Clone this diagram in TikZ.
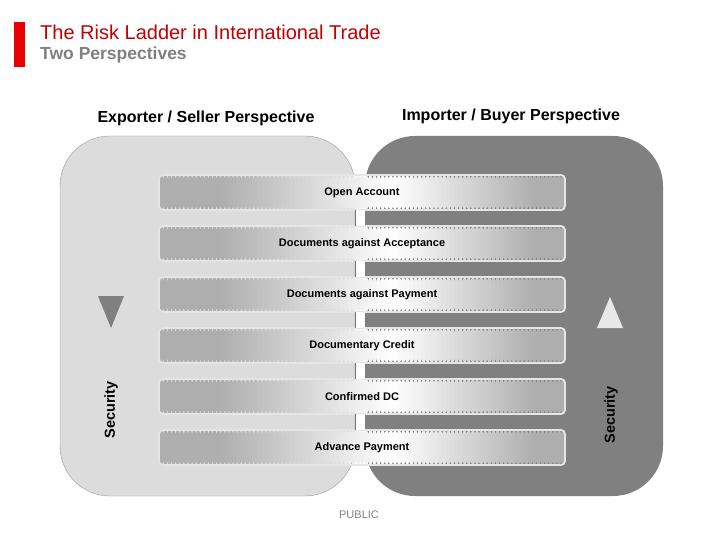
\documentclass[tikz,border=0pt]{standalone}
\usepackage{fontspec}
\setmainfont{Liberation Sans}
\usetikzlibrary{positioning}

\definecolor{lightpanel}{RGB}{220,220,220}
\definecolor{darkpanel}{RGB}{128,128,128}
\definecolor{bargray}{RGB}{174,174,174}
\definecolor{titlered}{RGB}{196,0,0}
\definecolor{flagred}{RGB}{230,0,0}

\tikzset{
  rung/.style={line width=1.5pt, rounded corners=4pt,
    path picture={
      % gray - white - gray, in thin strips
      \foreach \i in {0,...,99}{
        \pgfmathsetmacro\t{(\i+0.5)/100}
        \pgfmathsetmacro\p{\t<0.15 ? 100 : (\t<0.57 ? 100*(0.57-\t)/0.42 : (\t<0.92 ? 100*(\t-0.57)/0.35 : 100))}
        \fill [bargray!\p!white]
          ([xshift=\i*4.1pt]path picture bounding box.south west) rectangle
          ([xshift=\i*4.1pt+4.6pt]path picture bounding box.north west);
      }
    },
    postaction={draw=white!90!black, line width=1.8pt},
    minimum width=406pt, minimum height=35pt, inner sep=0pt, font=\fontsize{11}{13}\selectfont\bfseries},
  headline/.style={font=\fontsize{16}{18}\selectfont\bfseries, inner sep=0pt},
  securitylabel/.style={rotate=90, font=\fontsize{14.5}{16}\selectfont\bfseries, inner sep=0pt},
}

\begin{document}
\begin{tikzpicture}[x=1pt,y=1pt,yscale=-1,xscale=1]
\useasboundingbox (0,0) rectangle (720,540);

%Shape: Red flag 
\fill [flagred] (14,22) rectangle (25,67);
% Text Node
\draw (40,40) node [anchor=base west][inner sep=0pt] [font=\fontsize{20}{22}\selectfont, color=titlered] (title) {The Risk Ladder in International Trade};
% Text Node
\draw (40,60) node [anchor=base west][inner sep=0pt] [font=\fontsize{17.5}{20}\selectfont\bfseries, color=darkpanel] (subtitle) {Two Perspectives};

%Shape: Rounded panels 
\fill [darkpanel, rounded corners=50pt] (365,136) rectangle (663,496);
\draw [draw=black!40, fill=lightpanel, rounded corners=50pt] (60,136) rectangle (355,496);

% Text Node
\draw (206,118) node [headline] (exporter) {Exporter / Seller Perspective};
% Text Node
\draw (511,116) node [headline] (importer) {Importer / Buyer Perspective};

%Shape: Triangles 
\fill [darkpanel] (98,296) -- (124,296) -- (111,328) -- cycle;
\fill [black!9] (597,328) -- (623,328) -- (610,297) -- cycle;

% Text Node
\draw (111,410) node [securitylabel] (secleft) {Security};
% Text Node
\draw (611,415) node [securitylabel] (secright) {Security};

% Ladder rungs
\node [rung] (open) at (362,192.5) {Open Account};
\node [rung, below=14.5pt of open] (accept) {Documents against Acceptance};
\node [rung, below=14.5pt of accept] (payment) {Documents against Payment};
\node [rung, below=14.5pt of payment] (credit) {Documentary Credit};
\node [rung, below=14.5pt of credit] (confirmed) {Confirmed DC};
\node [rung, below=14.5pt of confirmed] (advance) {Advance Payment};

% Links between rungs
\foreach \a/\b in {open/accept, accept/payment, payment/credit, credit/confirmed, confirmed/advance}{
  \fill [white] ([xshift=-7pt,yshift=-1pt]\a.south) rectangle ([xshift=3pt,yshift=1pt]\b.north);
  \draw [black!55, line width=0.8pt] ([xshift=-7pt,yshift=-1pt]\a.south) -- ([xshift=-7pt,yshift=1pt]\b.north);
}

% Text Node
\draw (359,515) node [font=\fontsize{11}{13}\selectfont, color=black!50] (public) {PUBLIC};

\end{tikzpicture}
\end{document}
